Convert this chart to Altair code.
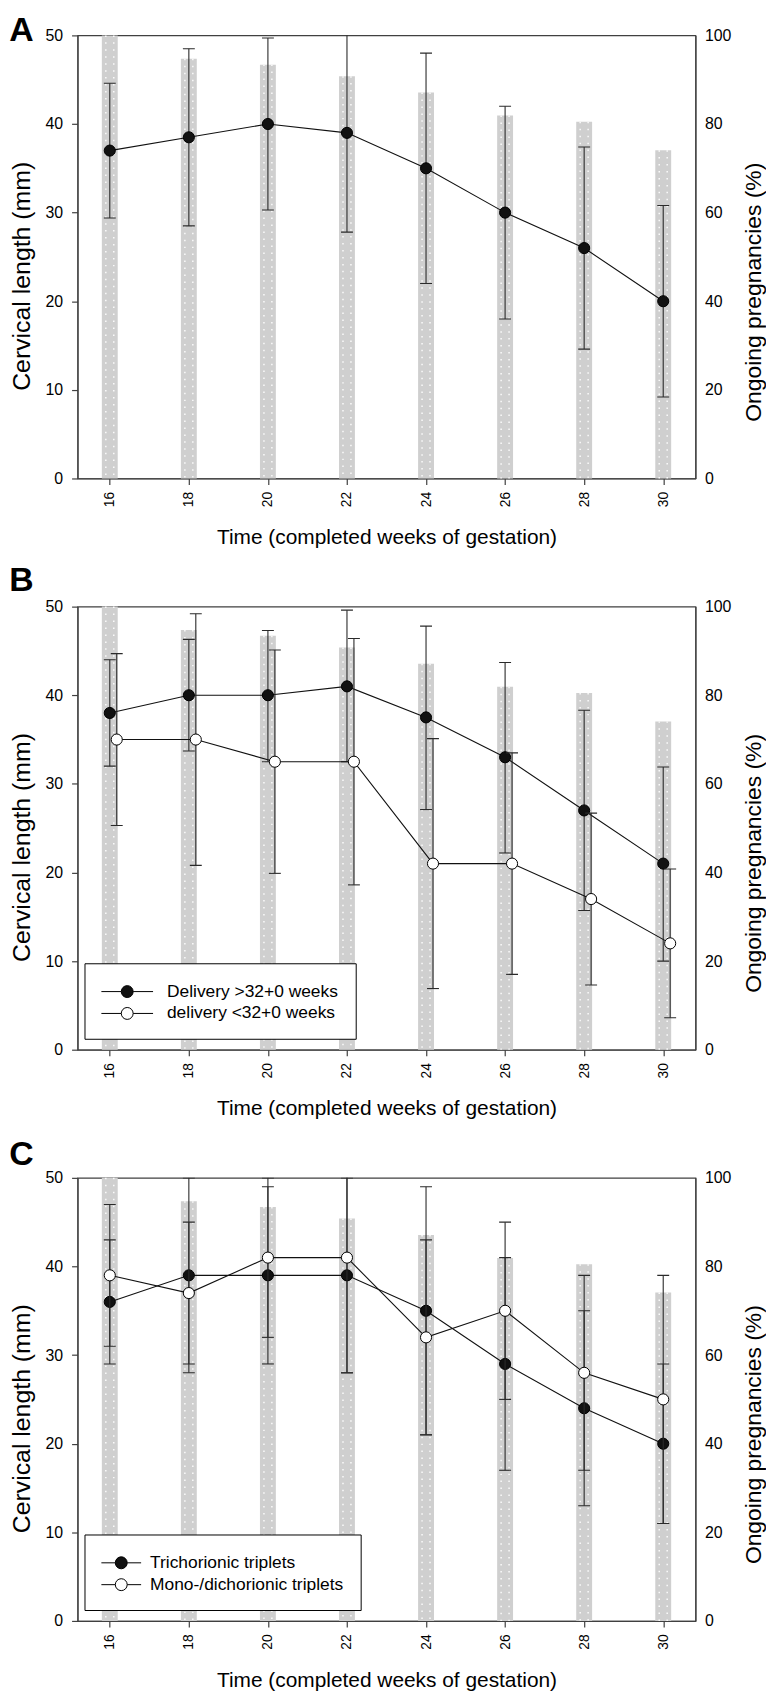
import altair as alt
import pandas as pd

# ---------------- data ----------------
weeks = [16, 18, 20, 22, 24, 26, 28, 30]
week_ticks = [16, 18, 20, 22, 24, 26, 28, 30]
mm_ticks = [0, 10, 20, 30, 40, 50]
pct_ticks = [0, 20, 40, 60, 80, 100]

# ongoing pregnancies (%) - grey bars, same in all panels
ongoing_pct = [100, 94.7, 93.4, 90.8, 87.1, 81.9, 80.5, 74.1]

# Panel A - all triplets
a_mean = [37, 38.5, 40, 39, 35, 30, 26, 20]
a_upper = [44.6, 48.5, 49.7, 52, 48, 42, 37.4, 30.8]
a_lower = [29.4, 28.5, 30.3, 27.8, 22, 18, 14.6, 9.2]

# Panel B - by delivery
series_b = ["Delivery >32+0 weeks", "delivery <32+0 weeks"]
b1_mean = [38, 40, 40, 41, 37.5, 33, 27, 21]
b1_upper = [44, 46.3, 47.3, 49.6, 47.8, 43.7, 38.3, 31.9]
b1_lower = [32, 33.7, 32.5, 32.5, 27.1, 22.2, 15.7, 10]
b2_mean = [35, 35, 32.5, 32.5, 21, 21, 17, 12]
b2_upper = [44.7, 49.2, 45.1, 46.4, 35.1, 33.5, 26.7, 20.4]
b2_lower = [25.3, 20.8, 19.9, 18.6, 6.9, 8.5, 7.3, 3.6]

# Panel C - by chorionicity
series_c = ["Trichorionic triplets", "Mono-/dichorionic triplets"]
c1_mean = [36, 39, 39, 39, 35, 29, 24, 20]
c1_upper = [43, 50, 49, 50, 49, 41, 35, 29]
c1_lower = [29, 28, 29, 28, 21, 17, 13, 11]
c2_mean = [39, 37, 41, 41, 32, 35, 28, 25]
c2_upper = [47, 45, 50, 54, 43, 45, 39, 39]
c2_lower = [31, 29, 32, 28, 21, 25, 17, 11]

# ---------------- style ----------------
FONT = "Liberation Sans"
AX = "#404040"
ERR = "#2a2a2a"
W, H = 622, 446
XDOM = [15.31, 30.69]

x_enc = alt.X(
    "week:Q",
    scale=alt.Scale(domain=XDOM, nice=False, zero=False),
    axis=alt.Axis(values=week_ticks, format="d", labelAngle=270, labelFontSize=14,
                  tickSize=6, labelPadding=7,
                  title="Time (completed weeks of gestation)", titleFontSize=21,
                  titlePadding=20),
)
mm_scale = alt.Scale(domain=[0, 50], nice=False)
left_axis = alt.Axis(values=mm_ticks, tickSize=6, labelPadding=9, labelFontSize=16,
                     title="Cervical length (mm)", titleFontSize=25, titlePadding=11,
                     titleY=242)
pct_scale = alt.Scale(domain=[0, 100], nice=False)
right_axis = alt.Axis(orient="right", values=pct_ticks, ticks=False, tickSize=0,
                      labelPadding=9, labelFontSize=16,
                      title="Ongoing pregnancies (%)", titleFontSize=23,
                      titleAngle=270, titleBaseline="middle", titleX=58, titleY=258)


def ongoing_layer():
    df = pd.DataFrame({"week": weeks, "pct": ongoing_pct})
    base = alt.Chart(df).encode(x=x_enc)
    y = alt.Y("pct:Q", scale=pct_scale, axis=right_axis)
    bars = base.mark_bar(orient="vertical", size=16, color="#cfcfcf").encode(y=y)
    dots = [
        base.mark_rule(stroke="white", strokeWidth=1.5, strokeDash=[1.5, 5.5],
                       xOffset=o, opacity=0.9).encode(y=y, y2=alt.datum(0))
        for o in (-4, 4)
    ]
    return alt.layer(bars, *dots)


def series_layers(mean, lo, hi, name, fill, offset=0):
    df = pd.DataFrame({"week": weeks, "mean": mean, "lo": lo, "hi": hi, "series": name})
    base = alt.Chart(df).encode(x=x_enc)
    ym = alt.Y("mean:Q", scale=mm_scale, axis=left_axis)
    ylo = alt.Y("lo:Q", scale=mm_scale, axis=left_axis)
    yhi = alt.Y("hi:Q", scale=mm_scale, axis=left_axis)
    err = base.mark_rule(color=ERR, strokeWidth=1.1, xOffset=offset, clip=True).encode(
        y=ylo, y2="hi:Q")
    cap_lo = base.mark_tick(orient="horizontal", size=12, thickness=1.1, color=ERR,
                            opacity=1, xOffset=offset, clip=True).encode(y=ylo)
    cap_hi = base.mark_tick(orient="horizontal", size=12, thickness=1.1, color=ERR,
                            opacity=1, xOffset=offset, clip=True).encode(y=yhi)
    line = base.mark_line(color="#111111", strokeWidth=1.1, xOffset=offset).encode(y=ym)
    pts = base.mark_circle(size=125, stroke="black", strokeWidth=1, opacity=1,
                           xOffset=offset).encode(y=ym, fill=fill)
    return [err, cap_lo, cap_hi, line, pts]


def legend_fill(series, path, sym_offset, label_offset):
    return alt.Fill(
        "series:N",
        scale=alt.Scale(domain=series, range=["#111111", "#ffffff"]),
        legend=alt.Legend(title=None, orient="none", legendX=7, legendY=359,
                          symbolType=path, symbolSize=484, symbolOffset=sym_offset,
                          symbolStrokeColor="black", symbolStrokeWidth=1,
                          labelFont=FONT, labelFontSize=17.5, labelColor="black",
                          labelOffset=label_offset, labelLimit=400,
                          padding=17, rowPadding=2, strokeColor="black",
                          fillColor="white"),
    )


def panel(letter, layers, offset):
    return alt.layer(ongoing_layer(), alt.layer(*layers)).resolve_scale(
        y="independent"
    ).properties(
        width=W, height=H,
        title=alt.TitleParams(letter, anchor="start", fontSize=34, fontWeight="bold",
                              font=FONT, color="black", offset=offset),
    )


# legend symbol: line with a circle in the middle (unit = sqrt(symbolSize)/2 px)
path_b = ("M-2.364,0H-0.545M0.545,0H2.364M0.545,0"
          "A0.545,0.545,0,1,1,-0.545,0A0.545,0.545,0,1,1,0.545,0Z")
path_c = ("M-1.818,0H-0.545M0.545,0H1.818M0.545,0"
          "A0.545,0.545,0,1,1,-0.545,0A0.545,0.545,0,1,1,0.545,0Z")

fill_b = legend_fill(series_b, path_b, 14.5, 28.5)
fill_c = legend_fill(series_c, path_c, 8.5, 17.5)

panel_a = panel("A", series_layers(a_mean, a_lower, a_upper, "all", alt.value("#111111")), -21)
panel_b = panel("B",
                series_layers(b1_mean, b1_lower, b1_upper, series_b[0], fill_b, 0)
                + series_layers(b2_mean, b2_lower, b2_upper, series_b[1], fill_b, 7),
                1)
panel_c = panel("C",
                series_layers(c1_mean, c1_lower, c1_upper, series_c[0], fill_c, 0)
                + series_layers(c2_mean, c2_lower, c2_upper, series_c[1], fill_c, 0),
                -2)

chart = alt.vconcat(panel_a, panel_b, panel_c, spacing=129, bounds="flush").resolve_scale(
    fill="independent"
).resolve_legend(
    fill="independent"
).properties(
    padding={"left": 0, "top": 0, "right": 0, "bottom": 0}
).configure_axis(
    labelFont=FONT, titleFont=FONT, labelColor="black", titleColor="black",
    domainColor=AX, tickColor=AX, titleFontWeight="normal", grid=False,
    domainWidth=1.2, tickWidth=1.2,
).configure_view(stroke=AX, strokeWidth=1.2)

chart.save("out.html", embed_options={"renderer": "svg", "actions": False})
